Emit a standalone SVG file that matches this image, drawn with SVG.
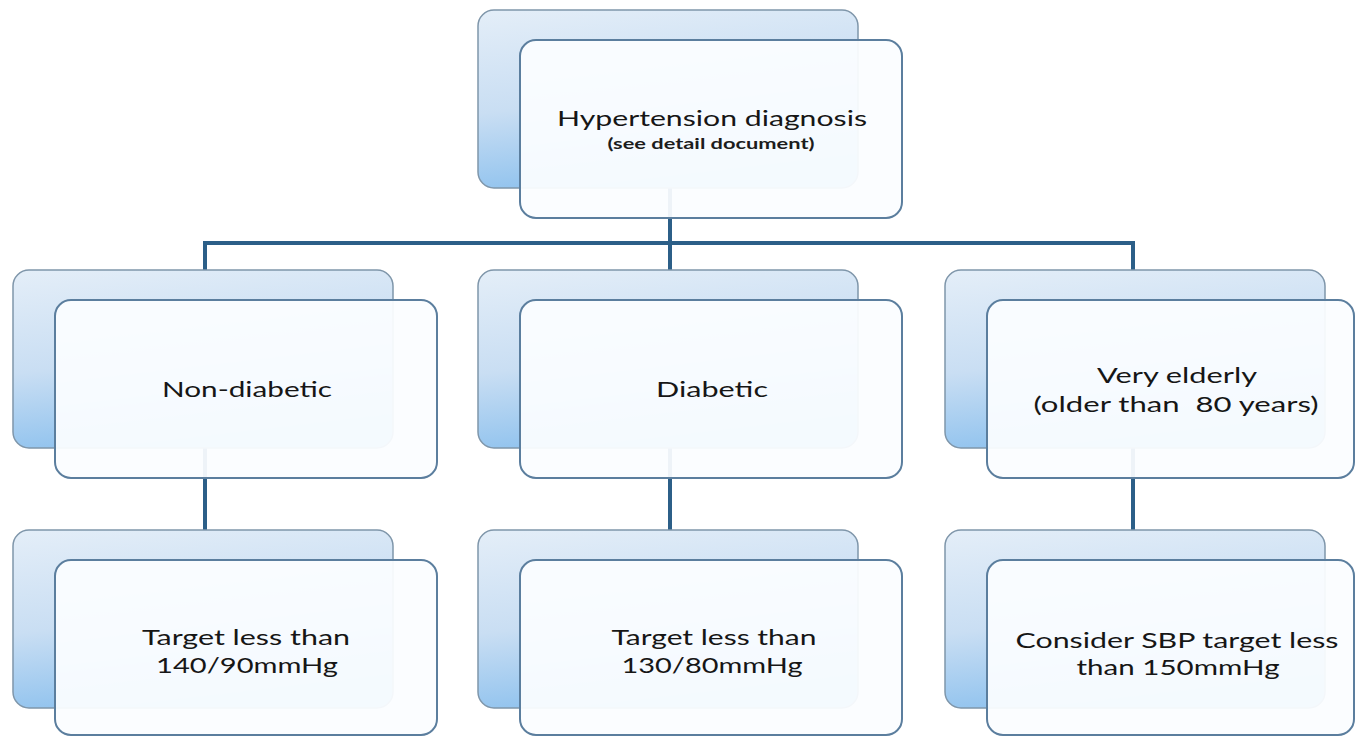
<svg xmlns="http://www.w3.org/2000/svg" width="1356" height="737" viewBox="0 0 1356 737">
  <defs>
    <linearGradient id="backFill" x1="0" y1="0" x2="0.25" y2="1">
      <stop offset="0" stop-color="#e4eef8"/>
      <stop offset="0.55" stop-color="#c9def3"/>
      <stop offset="1" stop-color="#8fc2ee"/>
    </linearGradient>
    <style>
      .back { fill: url(#backFill); stroke: #7f96aa; stroke-width: 1.5; }
      .front { fill: #fbfdff; fill-opacity: 0.94; stroke: #5b7e9e; stroke-width: 2; }
      .link { fill: none; stroke: #2c5f88; stroke-width: 4; stroke-linejoin: miter; }
      .label { font-family: Lato, "Open Sans", "Liberation Sans", sans-serif; font-size: 22px; fill: #161616; text-anchor: middle; }
      .sub { font-family: Lato, "Open Sans", "Liberation Sans", sans-serif; font-size: 15px; font-weight: bold; fill: #1c1c1c; text-anchor: middle; }
    </style>
  </defs>
  <rect width="1356" height="737" fill="#ffffff"/>

  <!-- tree connectors, drawn beneath the boxes -->
  <g id="connectors">
    <path class="link" d="M670 188 V270"/>
    <path class="link" d="M205 270 V243 H1133 V270"/>
    <path class="link" d="M205 448 V530"/>
    <path class="link" d="M670 448 V530"/>
    <path class="link" d="M1133 448 V530"/>
  </g>

  <g id="diagnosis">
    <rect class="back" x="478" y="10" width="380" height="178" rx="16"/>
    <rect class="front" x="520" y="40" width="382" height="178" rx="16"/>
    <text class="label" x="712" y="126" textLength="310" lengthAdjust="spacingAndGlyphs">Hypertension diagnosis</text>
    <text class="sub" x="711" y="149" textLength="207" lengthAdjust="spacingAndGlyphs">(see detail document)</text>
  </g>

  <g id="non-diabetic">
    <rect class="back" x="13" y="270" width="380" height="178" rx="16"/>
    <rect class="front" x="55" y="300" width="382" height="178" rx="16"/>
    <text class="label" x="247" y="397" textLength="170" lengthAdjust="spacingAndGlyphs">Non-diabetic</text>
  </g>

  <g id="diabetic">
    <rect class="back" x="478" y="270" width="380" height="178" rx="16"/>
    <rect class="front" x="520" y="300" width="382" height="178" rx="16"/>
    <text class="label" x="712" y="397" textLength="112" lengthAdjust="spacingAndGlyphs">Diabetic</text>
  </g>

  <g id="very-elderly">
    <rect class="back" x="945" y="270" width="380" height="178" rx="16"/>
    <rect class="front" x="987" y="300" width="367" height="178" rx="16"/>
    <text class="label" x="1177" y="383" textLength="160" lengthAdjust="spacingAndGlyphs">Very elderly</text>
    <text class="label" x="1176" y="412" textLength="285" lengthAdjust="spacingAndGlyphs" xml:space="preserve">(older than  80 years)</text>
  </g>

  <g id="target-non-diabetic">
    <rect class="back" x="13" y="530" width="380" height="178" rx="16"/>
    <rect class="front" x="55" y="560" width="382" height="175" rx="16"/>
    <text class="label" x="246" y="645" textLength="208" lengthAdjust="spacingAndGlyphs">Target less than</text>
    <text class="label" x="247" y="673" textLength="182" lengthAdjust="spacingAndGlyphs">140/90mmHg</text>
  </g>

  <g id="target-diabetic">
    <rect class="back" x="478" y="530" width="380" height="178" rx="16"/>
    <rect class="front" x="520" y="560" width="382" height="175" rx="16"/>
    <text class="label" x="714" y="645" textLength="205" lengthAdjust="spacingAndGlyphs">Target less than</text>
    <text class="label" x="712" y="673" textLength="181" lengthAdjust="spacingAndGlyphs">130/80mmHg</text>
  </g>

  <g id="target-elderly">
    <rect class="back" x="945" y="530" width="380" height="178" rx="16"/>
    <rect class="front" x="987" y="560" width="367" height="175" rx="16"/>
    <text class="label" x="1177" y="648" textLength="323" lengthAdjust="spacingAndGlyphs">Consider SBP target less</text>
    <text class="label" x="1178" y="675" textLength="203" lengthAdjust="spacingAndGlyphs">than 150mmHg</text>
  </g>
</svg>
